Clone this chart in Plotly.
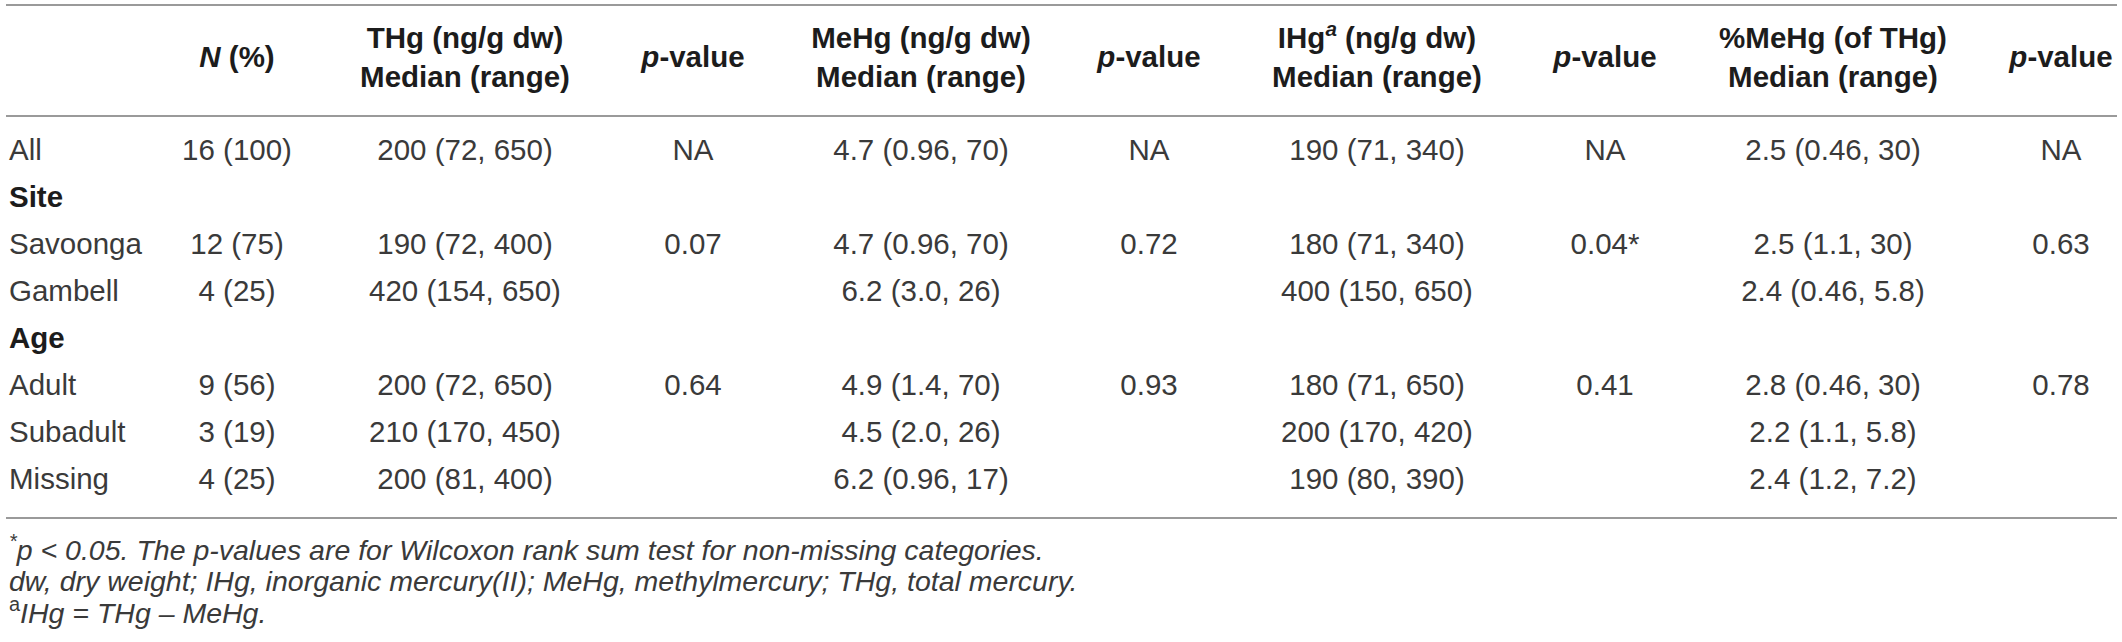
import plotly.graph_objects as go

# Data
row_labels = ["All", "Site", "Savoonga", "Gambell", "Age", "Adult", "Subadult", "Missing"]
group_rows = ["Site", "Age"]

n_pct = ["16 (100)", "", "12 (75)", "4 (25)", "", "9 (56)", "3 (19)", "4 (25)"]
thg = ["200 (72, 650)", "", "190 (72, 400)", "420 (154, 650)", "", "200 (72, 650)", "210 (170, 450)", "200 (81, 400)"]
thg_p = ["NA", "", "0.07", "", "", "0.64", "", ""]
mehg = ["4.7 (0.96, 70)", "", "4.7 (0.96, 70)", "6.2 (3.0, 26)", "", "4.9 (1.4, 70)", "4.5 (2.0, 26)", "6.2 (0.96, 17)"]
mehg_p = ["NA", "", "0.72", "", "", "0.93", "", ""]
ihg = ["190 (71, 340)", "", "180 (71, 340)", "400 (150, 650)", "", "180 (71, 650)", "200 (170, 420)", "190 (80, 390)"]
ihg_p = ["NA", "", "0.04*", "", "", "0.41", "", ""]
pct_mehg = ["2.5 (0.46, 30)", "", "2.5 (1.1, 30)", "2.4 (0.46, 5.8)", "", "2.8 (0.46, 30)", "2.2 (1.1, 5.8)", "2.4 (1.2, 7.2)"]
pct_mehg_p = ["NA", "", "0.63", "", "", "0.78", "", ""]

headers = [
    "<i>N</i> (%)",
    "THg (ng/g dw)<br>Median (range)",
    "<i>p</i>-value",
    "MeHg (ng/g dw)<br>Median (range)",
    "<i>p</i>-value",
    "IHg<sup><i>a</i></sup> (ng/g dw)<br>Median (range)",
    "<i>p</i>-value",
    "%MeHg (of THg)<br>Median (range)",
    "<i>p</i>-value",
]

footnotes = [
    "<i><sup>*</sup>p < 0.05. The p-values are for Wilcoxon rank sum test for non-missing categories.</i>",
    "<i>dw, dry weight; IHg, inorganic mercury(II); MeHg, methylmercury; THg, total mercury.</i>",
    "<sup>a</sup><i>IHg = THg \u2013 MeHg.</i>",
]

columns = [n_pct, thg, thg_p, mehg, mehg_p, ihg, ihg_p, pct_mehg, pct_mehg_p]

# Layout settings (pixels)
W, H = 2122, 642
col_step = 228        # distance between column centres
x_origin = 9          # pixel of column 0 (label column, left aligned)
first_row_px = 153    # centre of first body row
row_px = 47           # body row height
header_px = 60        # centre of the two-line header
rule_px = [5, 116, 518]
foot_px = [548, 581, 611]
family = "Liberation Sans, Arial, Helvetica, sans-serif"
body_font = dict(family=family, size=29.5, color="#3a3a3a")
head_font = dict(family=family, size=29.5, color="#1c1c1c")
foot_font = dict(family=family, size=28.5, color="#3a3a3a")
rule_color = "#9a9a9a"

fig = go.Figure()

# label column
label_text = ["<b>%s</b>" % s if s in group_rows else s for s in row_labels]
label_color = [head_font["color"] if s in group_rows else body_font["color"] for s in row_labels]
label_size = [head_font["size"] if s in group_rows else body_font["size"] for s in row_labels]
fig.add_trace(go.Scatter(
    x=[0] * len(row_labels), y=list(range(len(row_labels))),
    mode="text", text=label_text, textposition="middle right",
    textfont=dict(family=family, size=label_size, color=label_color),
    hoverinfo="skip", showlegend=False, cliponaxis=False,
))

# value columns (blank cells are skipped)
for i, col in enumerate(columns):
    rows = [r for r, v in enumerate(col) if v]
    fig.add_trace(go.Scatter(
        x=[i + 1] * len(rows), y=rows,
        mode="text", text=[col[r] for r in rows], textposition="middle center",
        textfont=body_font, hoverinfo="skip", showlegend=False, cliponaxis=False,
    ))

# header
header_y = (header_px - first_row_px) / row_px
fig.add_trace(go.Scatter(
    x=list(range(1, len(headers) + 1)), y=[header_y] * len(headers),
    mode="text", text=["<b>%s</b>" % h for h in headers], textposition="middle center",
    textfont=head_font, hoverinfo="skip", showlegend=False, cliponaxis=False,
))

# axes in column / row units mapped onto the page
fig.update_xaxes(range=[-x_origin / col_step, (W - x_origin) / col_step],
                 visible=False, fixedrange=True)
fig.update_yaxes(range=[(H - first_row_px) / row_px, (0 - first_row_px) / row_px],
                 visible=False, fixedrange=True)

for r in rule_px:
    fig.add_shape(type="line", xref="paper", yref="paper",
                  x0=6 / W, x1=2117 / W, y0=1 - r / H, y1=1 - r / H,
                  line=dict(color=rule_color, width=2))

for f, fy in zip(footnotes, foot_px):
    fig.add_annotation(text=f, xref="paper", yref="paper", x=7 / W, y=1 - fy / H,
                       xanchor="left", yanchor="middle", showarrow=False, font=foot_font)

fig.update_layout(
    width=W, height=H,
    margin=dict(l=0, r=0, t=0, b=0),
    paper_bgcolor="white", plot_bgcolor="white",
)

fig.write_html("out.html", config={"displayModeBar": False},
               post_script="document.body.style.margin='0';document.body.style.overflow='hidden';")
